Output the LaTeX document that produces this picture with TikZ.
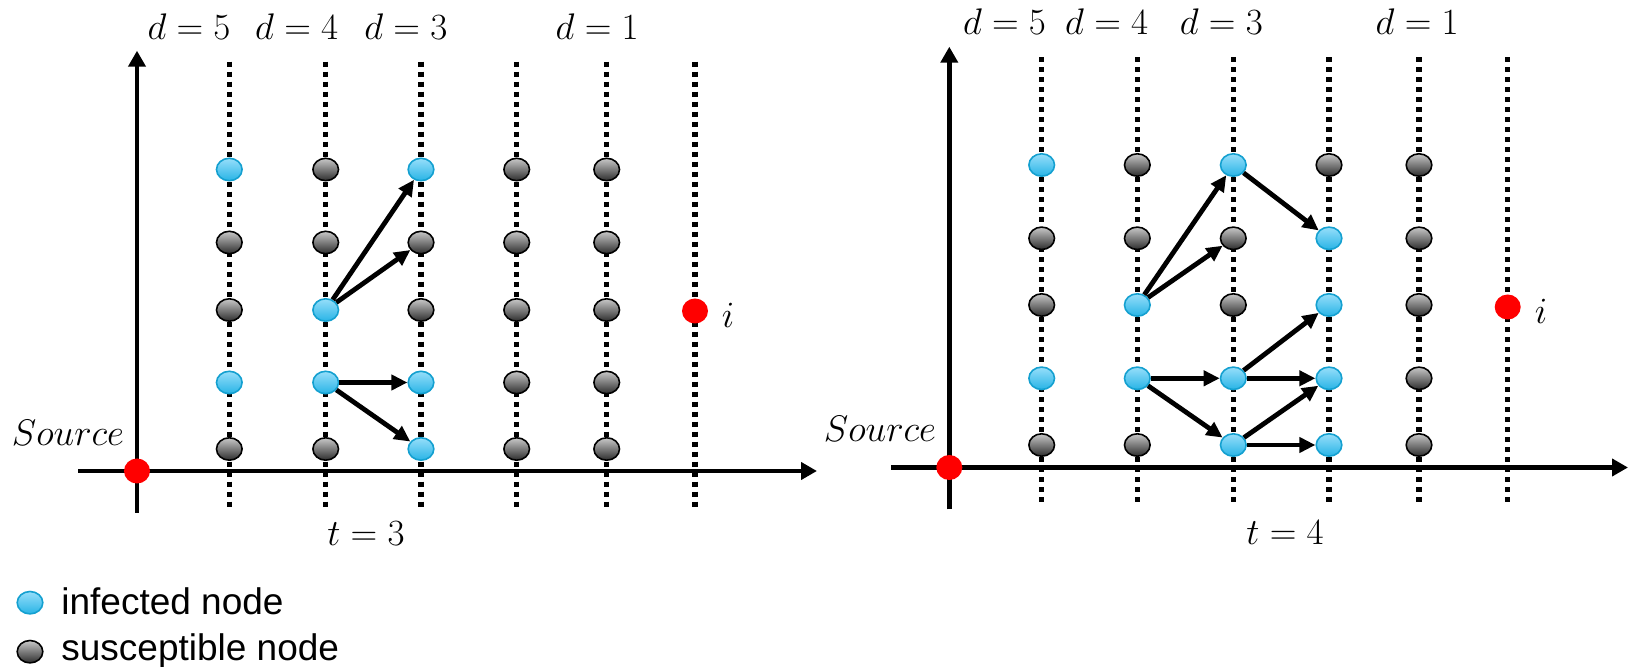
\RequirePackage{fix-cm}
\documentclass[tikz,border=0pt]{standalone}
\usepackage{fontspec}
\newfontfamily\legendfont{Liberation Sans}
\usetikzlibrary{arrows.meta,shapes.geometric}
\definecolor{bluetop}{RGB}{150,222,250}
\definecolor{bluebot}{RGB}{40,180,230}
\definecolor{blueedge}{RGB}{20,160,208}
\definecolor{graytop}{RGB}{200,200,200}
\definecolor{graybot}{RGB}{45,45,45}
\begin{document}
\begin{tikzpicture}[x=0.5pt,y=-0.5pt,
  inf/.style={ellipse,minimum width=12.8pt,minimum height=11.2pt,inner sep=0pt,
    draw=blueedge,line width=0.8pt,top color=bluetop,bottom color=bluebot},
  sus/.style={ellipse,minimum width=12.8pt,minimum height=11.2pt,inner sep=0pt,
    draw=black,line width=0.8pt,top color=graytop,bottom color=graybot},
  rednode/.style={ellipse,minimum width=13pt,minimum height=12.5pt,inner sep=0pt,fill=red},
  dotline/.style={line width=2.6pt,dash pattern=on 2.6pt off 2.4pt},
  axis/.style={line width=2.3pt,-{Triangle[length=8pt,width=8.5pt]}},
  arr/.style={line width=2.4pt,-{Triangle[length=8pt,width=7.5pt]}},
  lab/.style={font=\fontsize{18.5}{22}\selectfont,inner sep=0pt,anchor=base},
  legtext/.style={font=\legendfont\fontsize{18.5}{21}\selectfont,inner sep=0pt,anchor=base west}
]
\useasboundingbox (0,0) rectangle (1629,667);

% ---------------- left panel ----------------
\foreach \x in {229.3,325.7,421,516.7,606.7,695}
  \draw[dotline] (\x,61.7) -- (\x,508);
\coordinate (LxS) at (78,471);
\coordinate (LxE) at (817,471);
\coordinate (LyS) at (137,513);
\coordinate (LyE) at (137,50.7);
\draw[axis] (LxS) -- (LxE);
\draw[axis] (LyS) -- (LyE);

\foreach \c/\x/\ta/\tb/\tc/\td/\te in {1/229.3/inf/sus/sus/inf/sus,
    2/325.7/sus/sus/inf/inf/sus, 3/421/inf/sus/sus/inf/inf,
    4/516.7/sus/sus/sus/sus/sus, 5/606.7/sus/sus/sus/sus/sus}{
  \node[\ta] (L\c1) at (\x,169.5) {};
  \node[\tb] (L\c2) at (\x,242.5) {};
  \node[\tc] (L\c3) at (\x,310) {};
  \node[\td] (L\c4) at (\x,382.5) {};
  \node[\te] (L\c5) at (\x,449) {};
}
\node[rednode] (Li) at (695,311) {};
\node[lab] (Lilab) at (728,328) {$i$};
\node[rednode] (Lsrc) at (137,471) {};
\node[lab] (Lsrclab) at (68,445.7) {$Source$};
\node[lab] (Lt) at (366,545.7) {$t=3$};

\node[lab] (Ld5) at (189,40) {$d=5$};
\node[lab] (Ld4) at (296.7,40) {$d=4$};
\node[lab] (Ld3) at (405.8,40) {$d=3$};
\node[lab] (Ld1) at (597.2,40) {$d=1$};

\draw[arr] (L23) -- (L31);
\draw[arr] (L23) -- (L32);
\draw[arr] (L24) -- (L34);
\draw[arr] (L24) -- (L35);

% ---------------- right panel ----------------
\foreach \x in {1041.7,1137.3,1233.3,1329,1419,1507.7}
  \draw[dotline] (\x,57.3) -- (\x,505);
\coordinate (RxS) at (891,467.5);
\coordinate (RxE) at (1628,467.5);
\coordinate (RyS) at (949.3,509.3);
\coordinate (RyE) at (949.3,46.7);
\draw[axis] (RxS) -- (RxE);
\draw[axis] (RyS) -- (RyE);

\foreach \c/\x/\ta/\tb/\tc/\td/\te in {1/1041.7/inf/sus/sus/inf/sus,
    2/1137.3/sus/sus/inf/inf/sus, 3/1233.3/inf/sus/sus/inf/inf,
    4/1329/sus/inf/inf/inf/inf, 5/1419/sus/sus/sus/sus/sus}{
  \node[\ta] (R\c1) at (\x,165) {};
  \node[\tb] (R\c2) at (\x,238.3) {};
  \node[\tc] (R\c3) at (\x,305) {};
  \node[\td] (R\c4) at (\x,378.3) {};
  \node[\te] (R\c5) at (\x,445) {};
}
\node[rednode] (Ri) at (1507.7,307) {};
\node[lab] (Rilab) at (1541,324) {$i$};
\node[rednode] (Rsrc) at (949.3,467.5) {};
\node[lab] (Rsrclab) at (880,441.7) {$Source$};
\node[lab] (Rt) at (1285,545) {$t=4$};

\node[lab] (Rd5) at (1004.5,35) {$d=5$};
\node[lab] (Rd4) at (1106.7,35) {$d=4$};
\node[lab] (Rd3) at (1221.3,35) {$d=3$};
\node[lab] (Rd1) at (1417.2,35) {$d=1$};

\draw[arr] (R23) -- (R31);
\draw[arr] (R23) -- (R32);
\draw[arr] (R24) -- (R34);
\draw[arr] (R24) -- (R35);
\draw[arr] (R31) -- (R42);
\draw[arr] (R34) -- (R43);
\draw[arr] (R34) -- (R44);
\draw[arr] (R35) -- (R44);
\draw[arr] (R35) -- (R45);

% ---------------- legend ----------------
\node[inf] (legI) at (30,602.7) {};
\node[legtext] (legIt) at (61,615) {infected node};
\node[sus] (legS) at (30,651.7) {};
\node[legtext] (legSt) at (61,661) {susceptible node};
\end{tikzpicture}
\end{document}
